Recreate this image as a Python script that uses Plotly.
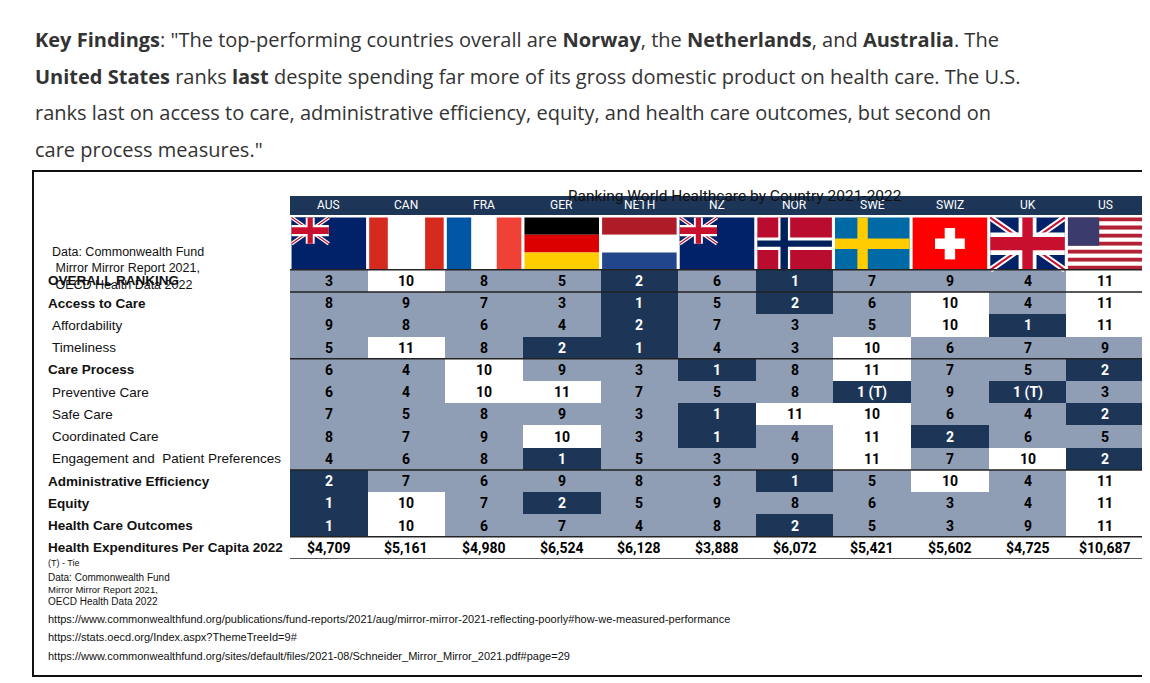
import plotly.graph_objects as go

countries = ["AUS", "CAN", "FRA", "GER", "NETH", "NZ", "NOR", "SWE", "SWIZ", "UK", "US"]
row_labels = ["OVERALL RANKING", "Access to Care", "Affordability", "Timeliness", "Care Process",
              "Preventive Care", "Safe Care", "Coordinated Care", "Engagement and  Patient Preferences",
              "Administrative Efficiency", "Equity", "Health Care Outcomes",
              "Health Expenditures Per Capita 2022"]
row_bold = [True, True, False, False, True, False, False, False, False, True, True, True, True]
overall = [3, 10, 8, 5, 2, 6, 1, 7, 9, 4, 11]
access = [8, 9, 7, 3, 1, 5, 2, 6, 10, 4, 11]
afford = [9, 8, 6, 4, 2, 7, 3, 5, 10, 1, 11]
timely = [5, 11, 8, 2, 1, 4, 3, 10, 6, 7, 9]
process = [6, 4, 10, 9, 3, 1, 8, 11, 7, 5, 2]
prevent = [6, 4, 10, 11, 7, 5, 8, 1, 9, 1, 3]
prevent_tie = [False]*7 + [True, False, True, False]
safe = [7, 5, 8, 9, 3, 1, 11, 10, 6, 4, 2]
coord = [8, 7, 9, 10, 3, 1, 4, 11, 2, 6, 5]
engage = [4, 6, 8, 1, 5, 3, 9, 11, 7, 10, 2]
admin = [2, 7, 6, 9, 8, 3, 1, 5, 10, 4, 11]
equity = [1, 10, 7, 2, 5, 9, 8, 6, 3, 4, 11]
outcomes = [1, 10, 6, 7, 4, 8, 2, 5, 3, 9, 11]
spend = [4709, 5161, 4980, 6524, 6128, 3888, 6072, 5421, 5602, 4725, 10687]
rank_rows = [overall, access, afford, timely, process, prevent, safe, coord, engage, admin, equity, outcomes]

DARK = "#1d3658"; GRAY = "#8f9db5"; WHITE = "#ffffff"

PL, PR, PT, PB = 282, 1136, 188, 551
W, H = 1150, 683
def px(x): return (x - PL) / (PR - PL)
def py(y): return (PB - y) / (PB - PT)

Y_TOP = -3.82; Y_FLAG = -2.97

z = []; txt = []; tcol = []
for r, row in enumerate(rank_rows):
    zr, tr, cr = [], [], []
    for c, v in enumerate(row):
        cat = 1 if v <= 2 else (2 if v >= 10 else 0)
        zr.append(cat)
        t = str(v) + (" (T)" if (r == 5 and prevent_tie[c]) else "")
        tr.append(t); cr.append("white" if cat == 1 else "black")
    z.append(zr); txt.append(tr); tcol.append(cr)
z.append([2]*11); txt.append([f"${s:,}" for s in spend]); tcol.append(["black"]*11)

fig = go.Figure(go.Heatmap(z=z, x=list(range(11)), y=list(range(13)), zmin=0, zmax=2,
                           colorscale=[[0, GRAY], [0.33, GRAY], [0.34, DARK], [0.66, DARK], [0.67, WHITE], [1, WHITE]],
                           showscale=False, hoverinfo="skip", xgap=0, ygap=0))
ann = []
for r in range(13):
    for c in range(11):
        ann.append(dict(x=c, y=r, text=f"<b>{txt[r][c]}</b>", showarrow=False,
                        font=dict(family="Roboto", size=14, color=tcol[r][c])))
    ann.append(dict(x=px(38 if row_bold[r] else 42), xref="paper", y=r, yref="y", xanchor="left",
                    text=(f"<b>{row_labels[r]}</b>" if row_bold[r] else row_labels[r]), showarrow=False,
                    font=dict(family="Liberation Sans", size=13.5, color="#111")))
shapes = []
shapes.append(dict(type="rect", x0=-0.5, x1=10.5, y0=Y_TOP, y1=Y_FLAG, fillcolor=DARK, line_width=0, layer="below"))
for c, name in enumerate(countries):
    ann.append(dict(x=c, y=(Y_TOP+Y_FLAG)/2, text=name, showarrow=False,
                    font=dict(family="Roboto", size=12, color="white")))

FY0, FY1 = Y_FLAG + 0.12, -0.5
def R(c, a, b, y0, y1, col):
    w = 0.96
    x0 = c - w/2 + a*w; x1 = c - w/2 + b*w
    yy0 = FY0 + y0*(FY1-FY0); yy1 = FY0 + y1*(FY1-FY0)
    shapes.append(dict(type="rect", x0=x0, x1=x1, y0=yy0, y1=yy1, fillcolor=col, line_width=0))
def L(c, a, y0, b, y1, col, wd):
    w = 0.96
    shapes.append(dict(type="line", x0=c-w/2+a*w, x1=c-w/2+b*w, y0=FY0+y0*(FY1-FY0), y1=FY0+y1*(FY1-FY0),
                       line=dict(color=col, width=wd)))
def jack(c, a, b, y0, y1, sc=1.0):
    R(c, a, b, y0, y1, "#012169")
    L(c, a, y0, b, y1, "white", 6*sc); L(c, a, y1, b, y0, "white", 6*sc)
    L(c, a, y0, b, y1, "#C8102E", 2*sc); L(c, a, y1, b, y0, "#C8102E", 2*sc)
    m = (a+b)/2; n = (y0+y1)/2
    R(c, m-0.06*(b-a)/0.5, m+0.06*(b-a)/0.5, y0, y1, "white")
    R(c, a, b, n-0.12*(y1-y0)/0.5*0.9, n+0.12*(y1-y0)/0.5*0.9, "white")
    R(c, m-0.035*(b-a)/0.5, m+0.035*(b-a)/0.5, y0, y1, "#C8102E")
    R(c, a, b, n-0.07*(y1-y0)/0.5*0.9, n+0.07*(y1-y0)/0.5*0.9, "#C8102E")
stars_x, stars_y, stars_c, stars_s = [], [], [], []
def star(c, fx, fy, col, s):
    stars_x.append(c - 0.48 + fx*0.96); stars_y.append(FY0 + fy*(FY1-FY0)); stars_c.append(col); stars_s.append(s)
R(0, 0, 1, 0, 1, "#012169"); jack(0, 0, 0.5, 0, 0.5, 0.6)
star(0, 0.25, 0.78, "white", 14); star(0, 0.75, 0.2, "white", 10); star(0, 0.62, 0.5, "white", 9)
star(0, 0.85, 0.45, "white", 9); star(0, 0.75, 0.82, "white", 9)
R(1, 0, 1, 0, 1, "white"); R(1, 0, 0.25, 0, 1, "#D52B1E"); R(1, 0.75, 1, 0, 1, "#D52B1E")
star(1, 0.5, 0.5, "#D52B1E", 22)
R(2, 0, 0.33, 0, 1, "#0055A4"); R(2, 0.33, 0.67, 0, 1, "white"); R(2, 0.67, 1, 0, 1, "#EF4135")
R(3, 0, 1, 0, 0.33, "black"); R(3, 0, 1, 0.33, 0.67, "#DD0000"); R(3, 0, 1, 0.67, 1, "#FFCE00")
R(4, 0, 1, 0, 0.33, "#AE1C28"); R(4, 0, 1, 0.33, 0.67, "white"); R(4, 0, 1, 0.67, 1, "#21468B")
R(5, 0, 1, 0, 1, "#012169"); jack(5, 0, 0.5, 0, 0.5, 0.6)
for fx, fy in [(0.75, 0.25), (0.65, 0.5), (0.85, 0.45), (0.75, 0.8)]:
    star(5, fx, fy, "#C8102E", 9)
R(6, 0, 1, 0, 1, "#BA0C2F"); R(6, 0.28, 0.44, 0, 1, "white"); R(6, 0, 1, 0.38, 0.62, "white")
R(6, 0.31, 0.41, 0, 1, "#00205B"); R(6, 0, 1, 0.44, 0.56, "#00205B")
R(7, 0, 1, 0, 1, "#006AA7"); R(7, 0.3, 0.44, 0, 1, "#FECC00"); R(7, 0, 1, 0.4, 0.6, "#FECC00")
R(8, 0, 1, 0, 1, "#FF0000"); R(8, 0.43, 0.57, 0.2, 0.8, "white"); R(8, 0.3, 0.7, 0.4, 0.6, "white")
jack(9, 0, 1, 0, 1, 1.0)
for i in range(13):
    R(10, 0, 1, i/13, (i+1)/13, "#B22234" if i % 2 == 0 else "white")
R(10, 0, 0.42, 0, 7/13, "#3C3B6E")

def hline(y, wd=1.5, x0=-0.5 - 255/77.6):
    shapes.append(dict(type="line", x0=x0, x1=10.5, y0=y, y1=y, line=dict(color="#222", width=wd)))
for y in [-0.5, 0.5, 3.5, 8.5, 11.5, 12.5]:
    hline(y)
shapes.append(dict(type="rect", xref="paper", yref="paper", x0=px(25), x1=px(1143), y0=py(163), y1=py(668),
                   line=dict(color="#111", width=2), fillcolor="rgba(0,0,0,0)"))
shapes.append(dict(type="line", xref="paper", yref="paper", x0=px(1136), x1=px(1136), y0=py(188), y1=py(551),
                   line=dict(color="#222", width=1.5)))

ann.append(dict(x=px(727), y=py(177), xref="paper", yref="paper", showarrow=False,
                text="Ranking World Healthcare by Country 2021-2022", font=dict(family="Roboto", size=15.5, color="#111")))
ann.append(dict(x=px(42), y=py(235), xref="paper", yref="paper", xanchor="left", align="left", showarrow=False,
                text="Data: Commonwealth Fund<br> Mirror Mirror Report 2021,<br> OECD Health Data 2022",
                font=dict(family="Liberation Sans", size=12.5, color="#111")))
para = ['<b>Key Findings</b>: "The top-performing countries overall are <b>Norway</b>, the <b>Netherlands</b>, and <b>Australia</b>. The',
        '<b>United States</b> ranks <b>last</b> despite spending far more of its gross domestic product on health care. The U.S.',
        'ranks last on access to care, administrative efficiency, equity, and health care outcomes, but second on',
        'care process measures."']
for i, t in enumerate(para):
    ann.append(dict(x=px(25), y=py(16 + 36.5*i), xref="paper", yref="paper", xanchor="left", showarrow=False,
                    text=t, font=dict(family="Open Sans", size=20, color="#333")))
foot = [("(T) - Tie", 562, 9), ("Data: Commonwealth Fund", 577, 10), ("Mirror Mirror Report 2021,", 589, 9.5),
        ("OECD Health Data 2022", 601, 10),
        ("https://www.commonwealthfund.org/publications/fund-reports/2021/aug/mirror-mirror-2021-reflecting-poorly#how-we-measured-performance", 619, 11),
        ("https://stats.oecd.org/Index.aspx?ThemeTreeId=9#", 637, 11),
        ("https://www.commonwealthfund.org/sites/default/files/2021-08/Schneider_Mirror_Mirror_2021.pdf#page=29", 656, 11)]
for t, y, s in foot:
    ann.append(dict(x=px(38), y=py(y), xref="paper", yref="paper", xanchor="left", showarrow=False,
                    text=t, font=dict(family="Liberation Sans", size=s, color="#111")))

fig.add_trace(go.Scatter(x=stars_x, y=stars_y, mode="markers", hoverinfo="skip",
                         marker=dict(symbol="star", color=stars_c, size=stars_s, line_width=0)))
fig.update_layout(width=W, height=H, margin=dict(l=PL, r=W-PR, t=PT, b=H-PB, autoexpand=False),
                  paper_bgcolor="white", plot_bgcolor="white", showlegend=False, annotations=ann, shapes=shapes,
                  xaxis=dict(range=[-0.5, 10.5], visible=False, fixedrange=True),
                  yaxis=dict(range=[12.5, Y_TOP], visible=False, fixedrange=True))
fig.write_html("out.html")
